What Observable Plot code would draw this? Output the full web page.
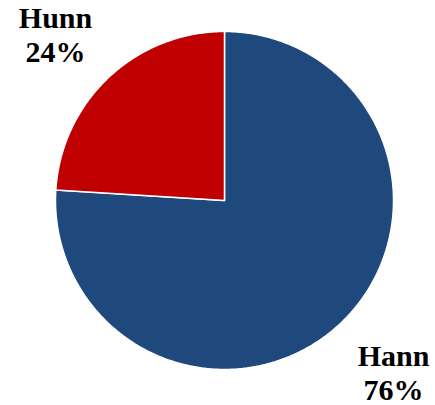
<!DOCTYPE html>
<html>
<head>
<meta charset="utf-8">
<script src="https://cdn.jsdelivr.net/npm/d3@7"></script>
<script src="https://cdn.jsdelivr.net/npm/@observablehq/plot@0.6"></script>
<style>
  html, body { margin: 0; padding: 0; background: #fff; }
</style>
</head>
<body>
<div id="chart"></div>
<script>
const categories = ["Hann", "Hunn"];
const values = [76, 24];
const colors = ["#1F497D", "#C00000"];

const total = d3.sum(values);
const slices = [];
let acc = 0;
categories.forEach((c, i) => {
  const a0 = acc / total * 2 * Math.PI;
  acc += values[i];
  const a1 = acc / total * 2 * Math.PI;
  slices.push({ category: c, value: values[i], a0, a1, mid: (a0 + a1) / 2 });
});

const points = [];
for (const s of slices) {
  points.push({ category: s.category, x: 0, y: 0 });
  const n = Math.max(2, Math.ceil((s.a1 - s.a0) / (Math.PI / 360)));
  for (let k = 0; k <= n; k++) {
    const t = s.a0 + (s.a1 - s.a0) * k / n;
    points.push({ category: s.category, x: Math.sin(t), y: Math.cos(t) });
  }
  points.push({ category: s.category, x: 0, y: 0 });
}

const labels = slices.map(s => ({
  x: Math.sign(Math.sin(s.mid)),
  y: Math.sign(Math.cos(s.mid)),
  text: `${s.category}\n${Math.round(s.value / total * 100)}%`
}));

const chart = Plot.plot({
  width: 435,
  height: 405,
  marginLeft: 55,
  marginRight: 42,
  marginTop: 31,
  marginBottom: 36,
  x: { domain: [-1, 1], axis: null },
  y: { domain: [-1, 1], axis: null },
  color: { domain: categories, range: colors },
  style: { background: "#fff" },
  marks: [
    Plot.line(points, {
      x: "x", y: "y", z: "category",
      fill: "category",
      stroke: "#fff", strokeWidth: 1.5, strokeLinejoin: "round",
      curve: "linear"
    }),
    Plot.text(labels, {
      x: "x", y: "y", text: "text",
      fontFamily: "Liberation Serif, Times New Roman, serif",
      fontWeight: "bold",
      fontSize: 30,
      lineHeight: 1.12,
      dy: 2.5,
      fill: "#000",
      textAnchor: "middle"
    })
  ]
});
document.getElementById("chart").appendChild(chart);
</script>
</body>
</html>
